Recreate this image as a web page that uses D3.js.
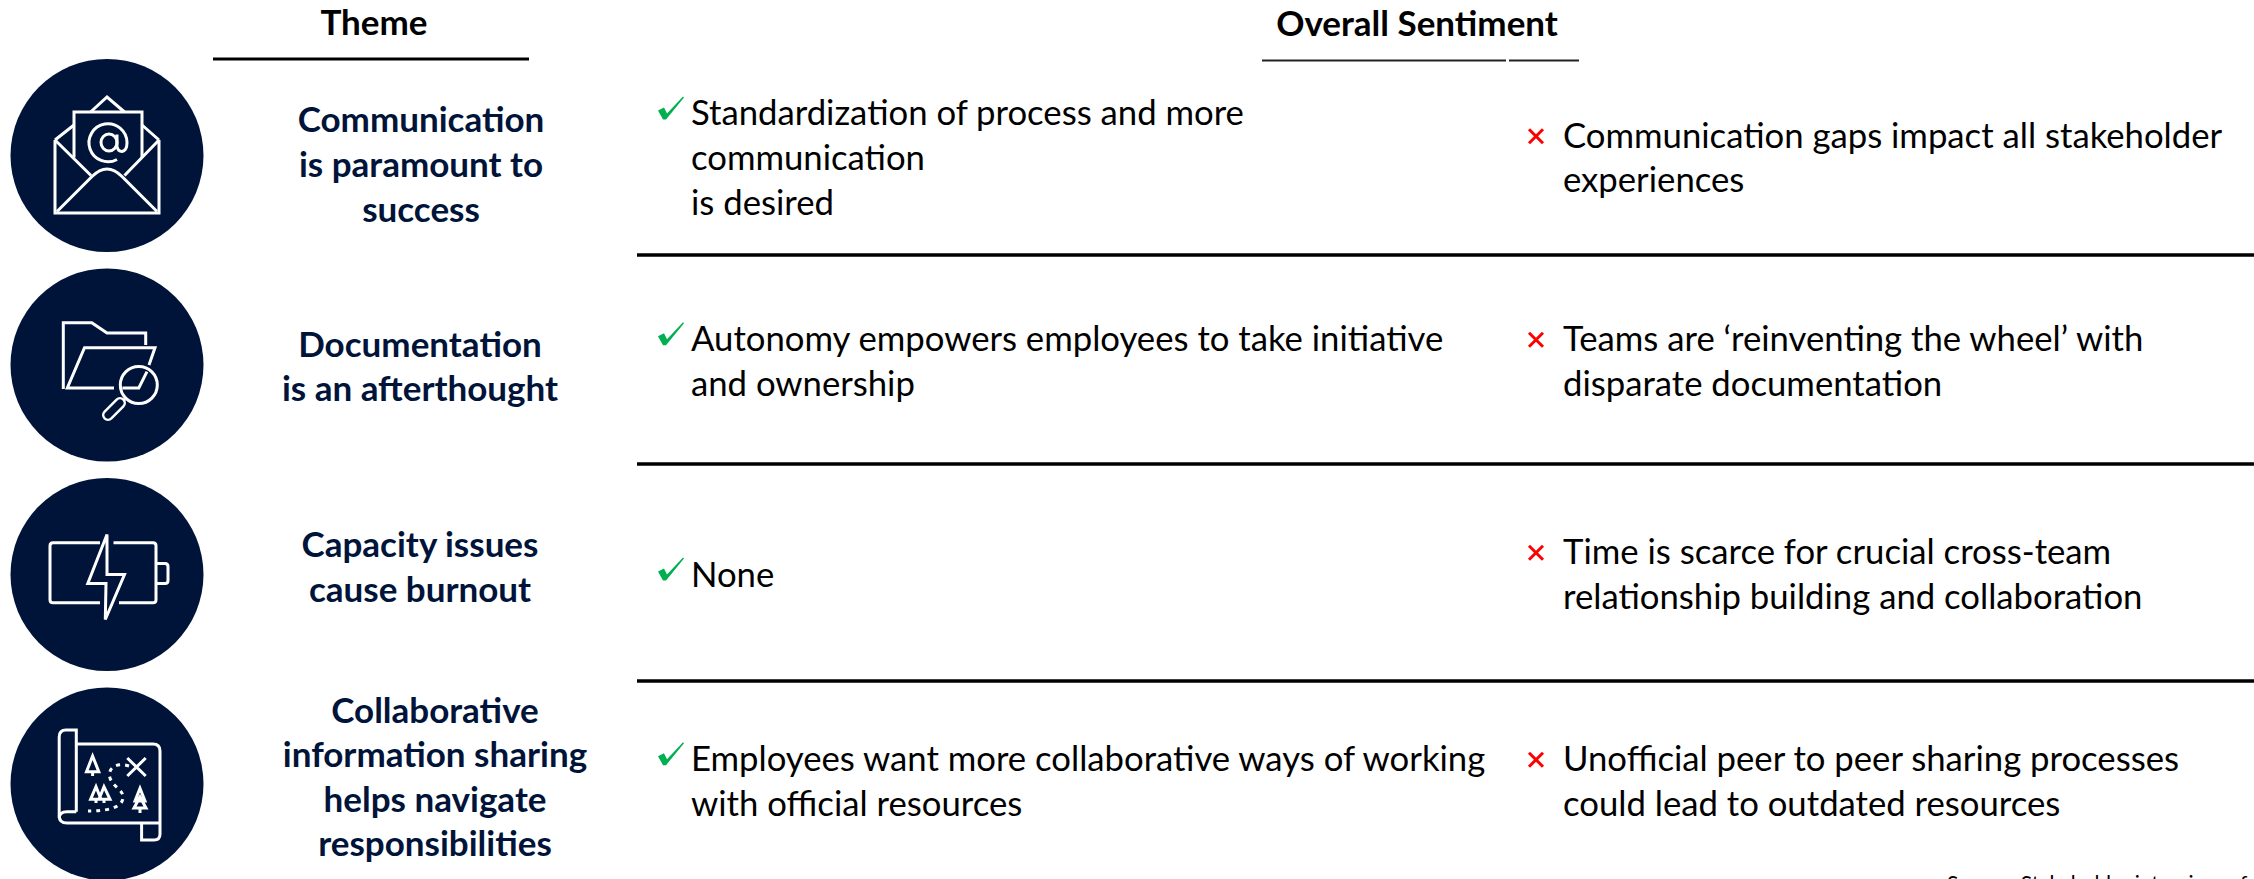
<!DOCTYPE html>
<html>
<head>
<meta charset="utf-8">
<script src="https://cdn.jsdelivr.net/npm/d3@7"></script>
<style>
  html, body { margin: 0; padding: 0; background: #fff; overflow: hidden; }
  text { font-family: Lato, "Open Sans", sans-serif; }
</style>
</head>
<body>
<div id="chart"></div>
<script>
// ---- content ----
const headers = ["Theme", "Overall Sentiment"];
const themes = ["communication", "documentation", "capacity", "collaboration"];
const themeLabels = [
    ["Communication", "is paramount to", "success"],
    ["Documentation", "is an afterthought"],
    ["Capacity issues", "cause burnout"],
    ["Collaborative", "information sharing", "helps navigate", "responsibilities"]
];
const positives = [
    ["Standardization of process and more", "communication", "is desired"],
    ["Autonomy empowers employees to take initiative", "and ownership"],
    ["None"],
    ["Employees want more collaborative ways of working", "with official resources"]
];
const negatives = [
    ["Communication gaps impact all stakeholder", "experiences"],
    ["Teams are \u2018reinventing the wheel\u2019 with", "disparate documentation"],
    ["Time is scarce for crucial cross-team", "relationship building and collaboration"],
    ["Unofficial peer to peer sharing processes", "could lead to outdated resources"]
];
const source = "Source: Stakeholder interviews, focus groups";

// ---- layout ----
const width = 2254, height = 879;
const navy = "#00143a", green = "#00b050", red = "#ff0000";
const bodySize = 34.7, themeSize = 35, headSize = 35, linePitch = 44.6;
const themeX = [421, 420, 420, 435];
const themeShift = [21.5, 14, 5, 5.5];    // block centre against row centre
const posShift = [14.5, 8.5, 12, 9.5];
const negShift = [14.5, 8.5, 12, 9.5];
const ruleY = [255, 464, 681];

const rowY = d3.scalePoint().domain(themes).range([155.5, 784]);

const svg = d3.select("#chart").append("svg")
    .attr("width", width)
    .attr("height", height)
    .style("display", "block");

// ---- icons, drawn around the circle centre ----
const icons = {
    communication: {
        lines: [
            "M-52,-15.5 L-52,57.5 L52,57.5 L52,-15.5",
            "M-52,-15.5 L-33,-30.5 M52,-15.5 L35,-30.5",
            "M-33,2 L-33,-43.5 L35,-43.5 L35,2",
            "M-16.4,-43.5 L0,-58.5 L17.5,-43.5",
            "M-52,-15.5 L-16,20 M52,-15.5 L17.5,20",
            "M-50,56 L-15,21 Q0,6 15,21 L50,56",
            "M10,-21 L10,-9 Q11,-4 15,-4 Q20,-5 20,-13 A19,19 0 1 0 10,4",
            "M10,-13 A8,8.5 0 1 1 -6,-13 A8,8.5 0 1 1 10,-13"
        ]
    },
    documentation: {
        lines: [
            "M-43.7,24 L-43.7,-42.3 L-15.2,-42.3 L0,-32 L38.7,-32 L38.7,-20",
            "M7,23 L-39.7,23 L-22.5,-17.3 L48,-17.3 L42,0",
            "M50.3,20 A18.5,18.5 0 1 1 13.3,20 A18.5,18.5 0 1 1 50.3,20",
            "M40,6.7 L31.8,23 L15.4,23",
            "M18,34 L14,38"
        ],
        handle: "M13,38 L1,50"
    },
    capacity: {
        lines: [
            "M-7,-31.7 L-54,-31.7 Q-57,-31.7 -57,-28.7 L-57,25.3 Q-57,28.3 -54,28.3 L-7,28.3",
            "M6.5,-31.7 L46,-31.7 Q49,-31.7 49,-28.7 L49,25.3 Q49,28.3 46,28.3 L12,28.3",
            "M49,-11 L58,-11 Q61,-11 61,-8 L61,6 Q61,9 58,9 L49,9",
            "M0,-40 L-19.2,9 L-1,9 L-1.7,45 L17.5,0 L0,0 Z"
        ]
    },
    collaboration: {
        lines: [
            "M-30.7,27.7 L-30.7,-54 L-41,-54 Q-47.8,-54 -47.8,-47 L-47.8,32 Q-47.8,39 -40,39 L53,39",
            "M-47.8,34 Q-47.8,27.7 -40,27.7 L-30.7,27.7",
            "M-30.7,-40 L46,-40 Q53,-40 53,-33 L53,50 Q53,56 47,56 L34.6,56 L34.6,39",
            "M-14.4,-28 L-20.5,-12.3 L-8.2,-12.3 Z M-14.4,-12.3 L-14.4,-8",
            "M20.3,-26 L38.7,-8 M38.7,-26 L20.3,-8",
            "M-16.4,15.3 L-11,2.7 L-6,15.3 Z M-8,15.3 L-3,2.7 L3,15.3 Z M-11,15.3 L-11,19 M-3,15.3 L-3,19",
            "M33,4.3 L28,17 L38,17 Z M33,13 L27,24 L39,24 Z M33,24 L33,29"
        ],
        dots: "M22,-18 C10,-22 0,-16 3,-6 C6,3 17,6 16,14 C15,24 0,27 -19,27"
    }
};

// ---- headers and rules ----
svg.append("text").attr("x", 374).attr("y", 35)
    .attr("text-anchor", "middle").attr("font-size", headSize).attr("font-weight", 700)
    .attr("fill", "#000").text(headers[0]);
svg.append("text").attr("x", 1417).attr("y", 36)
    .attr("text-anchor", "middle").attr("font-size", headSize).attr("font-weight", 700)
    .attr("fill", "#000").text(headers[1]);

svg.append("line").attr("x1", 213).attr("x2", 529).attr("y1", 59).attr("y2", 59)
    .attr("stroke", "#000").attr("stroke-width", 3.2);
svg.selectAll(".head-rule").data([[1262, 1506], [1509, 1579]]).enter().append("line")
    .attr("class", "head-rule")
    .attr("x1", d => d[0]).attr("x2", d => d[1])
    .attr("y1", 60.5).attr("y2", 60.5)
    .attr("stroke", "#222").attr("stroke-width", 1.8);

svg.selectAll(".row-rule").data(ruleY).enter().append("line")
    .attr("class", "row-rule")
    .attr("x1", 637).attr("x2", width)
    .attr("y1", d => d).attr("y2", d => d)
    .attr("stroke", "#000").attr("stroke-width", 3.5);

// ---- rows ----
function block(sel, lines, x, centre, anchor, opts) {
    const first = centre - (lines.length - 1) * linePitch / 2;
    sel.selectAll(null).data(lines).enter().append("text")
        .attr("x", x)
        .attr("y", (d, i) => first + i * linePitch)
        .attr("text-anchor", anchor)
        .attr("font-size", opts.size)
        .attr("font-weight", opts.weight)
        .attr("fill", opts.fill)
        .text(d => d);
    return first;
}

themes.forEach((t, i) => {
    const cy = rowY(t);
    const row = svg.append("g").attr("class", "row " + t);

    const icon = row.append("g").attr("transform", `translate(107,${cy})`);
    icon.append("circle").attr("r", 96.5).attr("fill", navy);
    icon.selectAll("path.line").data(icons[t].lines).enter().append("path")
        .attr("class", "line").attr("d", d => d)
        .attr("fill", "none").attr("stroke", "#fff").attr("stroke-width", 3)
        .attr("stroke-linejoin", "miter");
    if (icons[t].handle) {
        icon.append("path").attr("d", icons[t].handle).attr("stroke", "#fff")
            .attr("stroke-width", 12).attr("stroke-linecap", "round");
        icon.append("path").attr("d", icons[t].handle).attr("stroke", navy)
            .attr("stroke-width", 7).attr("stroke-linecap", "round");
    }
    if (icons[t].dots) {
        icon.append("path").attr("d", icons[t].dots).attr("fill", "none")
            .attr("stroke", "#fff").attr("stroke-width", 3).attr("stroke-dasharray", "4 5");
    }

    block(row, themeLabels[i], themeX[i], cy + themeShift[i], "middle",
        { size: themeSize, weight: 700, fill: navy });

    const posFirst = block(row, positives[i], 691, cy + posShift[i], "start",
        { size: bodySize, weight: 400, fill: "#000" });
    row.append("path")
        .attr("transform", `translate(658,${posFirst - 1})`)
        .attr("d", "M0,-14 L6,-17 L9,-11 L25,-28 L26,-27 L8,-5 L5,-5 Z")
        .attr("fill", green);

    const negFirst = block(row, negatives[i], 1563, cy + negShift[i], "start",
        { size: bodySize, weight: 400, fill: "#000" });
    row.append("path")
        .attr("transform", `translate(1536,${negFirst - 11.5})`)
        .attr("d", "M-7,-7 L7,7 M7,-7 L-7,7")
        .attr("stroke", red).attr("stroke-width", 3).attr("fill", "none");
});

// source note, cut by the bottom edge as in the original
svg.append("text").attr("x", 1947).attr("y", 891)
    .attr("font-size", 21).attr("fill", "#000").text(source);
</script>
</body>
</html>
